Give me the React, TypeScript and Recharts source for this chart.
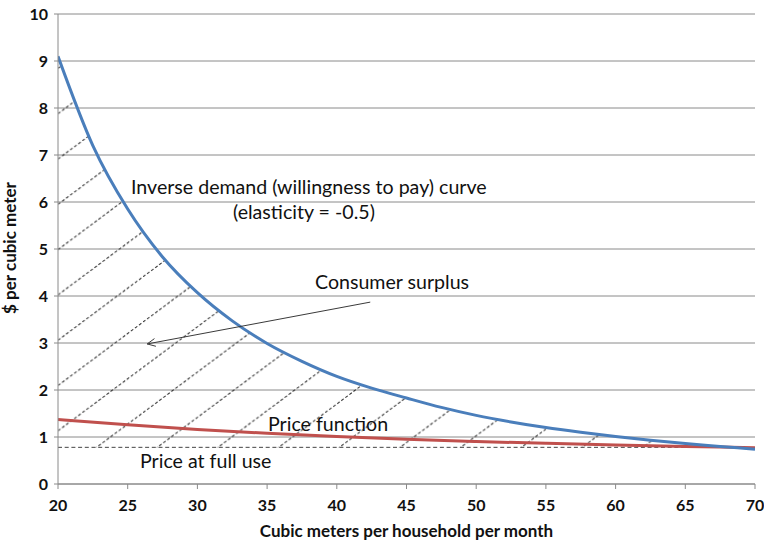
import React from 'react';
import {
  ComposedChart,
  Line,
  Area,
  XAxis,
  YAxis,
  CartesianGrid,
  ReferenceLine,
  Customized,
} from 'recharts';

// Quantity (cubic meters per household per month) for the demand curve
const demandQuantity = [20, 22.5, 25, 27.5, 30, 32.5, 35, 37.5, 40, 42.5, 45, 47.5, 50, 52.5, 55, 57.5, 60, 62.5, 65, 67.5, 70];
// Inverse demand (willingness to pay), $ per cubic meter
const demandPrice = [9.1, 7.2, 5.85, 4.83, 4.07, 3.47, 2.99, 2.61, 2.29, 2.04, 1.83, 1.63, 1.46, 1.32, 1.2, 1.1, 1.01, 0.93, 0.86, 0.8, 0.74];

// Price function
const priceQuantity = [20, 25, 30, 35, 40, 45, 50, 55, 60, 65, 70];
const priceFunction = [1.37, 1.26, 1.16, 1.08, 1.01, 0.95, 0.905, 0.865, 0.83, 0.8, 0.77];

// Price at full use
const fullUsePrice = 0.78;
const fullUseQuantity = [20, 66.6];

// Arrow pointing to consumer surplus (data coordinates: from label to area)
const arrowQuantity = [42.4, 26.4];
const arrowPrice = [3.87, 2.98];

const xTicks = [20, 25, 30, 35, 40, 45, 50, 55, 60, 65, 70];
const yTicks = [0, 1, 2, 3, 4, 5, 6, 7, 8, 9, 10];

const demandData = demandQuantity.map((q, i) => ({ q, p: demandPrice[i] }));
const priceData = priceQuantity.map((q, i) => ({ q, p: priceFunction[i] }));
const surplusData = demandQuantity.map((q, i) => ({
  q,
  range: [fullUsePrice, Math.max(demandPrice[i], fullUsePrice)],
}));

const FONT = 'Lato, "Noto Sans", sans-serif';
const W = 60.7;
const H = 45.3;

const Arrow = (props: any) => {
  const { x1, y1, x2, y2 } = props;
  const ang = Math.atan2(y2 - y1, x2 - x1);
  const len = 9;
  const spread = 0.45;
  const ax1 = x2 - len * Math.cos(ang - spread);
  const ay1 = y2 - len * Math.sin(ang - spread);
  const ax2 = x2 - len * Math.cos(ang + spread);
  const ay2 = y2 - len * Math.sin(ang + spread);
  return (
    <g>
      <line x1={x1} y1={y1} x2={x2} y2={y2} stroke="#3a3a3a" strokeWidth={1} />
      <polyline points={`${ax1},${ay1} ${x2},${y2} ${ax2},${ay2}`} fill="none" stroke="#3a3a3a" strokeWidth={1} />
    </g>
  );
};

const Annotations = () => (
  <g fontFamily={FONT} fill="#111">
    <text x={131} y={194} fontSize={19.6}>Inverse demand (willingness to pay) curve</text>
    <text x={233} y={219} fontSize={19.6}>(elasticity = -0.5)</text>
    <text x={315} y={289} fontSize={19.6}>Consumer surplus</text>
    <text x={268} y={431} fontSize={19.6}>Price function</text>
    <text x={140} y={468} fontSize={19.6}>Price at full use</text>
    <text x={406.5} y={537} fontSize={17} fontWeight={700} textAnchor="middle">
      Cubic meters per household per month
    </text>
    <text transform="translate(16,248) rotate(-90)" fontSize={17} fontWeight={700} textAnchor="middle">
      $ per cubic meter
    </text>
  </g>
);

export default function App() {
  return (
    <div style={{ position: 'absolute', left: 0, top: 0, width: 764, height: 545, background: '#fff' }}>
      <ComposedChart width={764} height={545} margin={{ top: 14, right: 9, bottom: 0, left: 0 }}>
        <defs>
          <pattern id="hatch" patternUnits="userSpaceOnUse" x={21.6} y={5} width={W} height={H}>
            <line
              x1={-W}
              y1={2 * H}
              x2={2 * W}
              y2={-H}
              stroke="#222"
              strokeWidth={1}
              strokeDasharray="3 2.05"
            />
          </pattern>
        </defs>
        <CartesianGrid horizontal vertical={false} stroke="#8a8a8a" strokeWidth={1} />
        <XAxis
          type="number"
          dataKey="q"
          domain={[20, 70]}
          ticks={xTicks}
          allowDataOverflow
          height={61}
          tickSize={5}
          tickMargin={11}
          stroke="#8a8a8a"
          tick={{ fill: '#111', fontFamily: FONT, fontWeight: 700, fontSize: 16 }}
        />
        <YAxis
          type="number"
          domain={[0, 10]}
          ticks={yTicks}
          width={58}
          tickSize={4}
          tickMargin={6}
          stroke="#8a8a8a"
          tick={{ fill: '#111', fontFamily: FONT, fontWeight: 700, fontSize: 16 }}
        />
        <Area
          data={surplusData}
          dataKey="range"
          type="monotone"
          stroke="none"
          fill="url(#hatch)"
          fillOpacity={1}
          isAnimationActive={false}
        />
        <ReferenceLine
          segment={[
            { x: fullUseQuantity[0], y: fullUsePrice },
            { x: fullUseQuantity[1], y: fullUsePrice },
          ]}
          stroke="#444"
          strokeWidth={1}
          strokeDasharray="4 2.7"
        />
        <Line
          data={priceData}
          dataKey="p"
          type="monotone"
          stroke="#c0504d"
          strokeWidth={3}
          dot={false}
          isAnimationActive={false}
        />
        <Line
          data={demandData}
          dataKey="p"
          type="monotone"
          stroke="#4a7ebb"
          strokeWidth={3}
          dot={false}
          isAnimationActive={false}
        />
        <ReferenceLine
          segment={[
            { x: arrowQuantity[0], y: arrowPrice[0] },
            { x: arrowQuantity[1], y: arrowPrice[1] },
          ]}
          shape={Arrow}
        />
        <Customized component={<Annotations />} />
      </ComposedChart>
    </div>
  );
}
